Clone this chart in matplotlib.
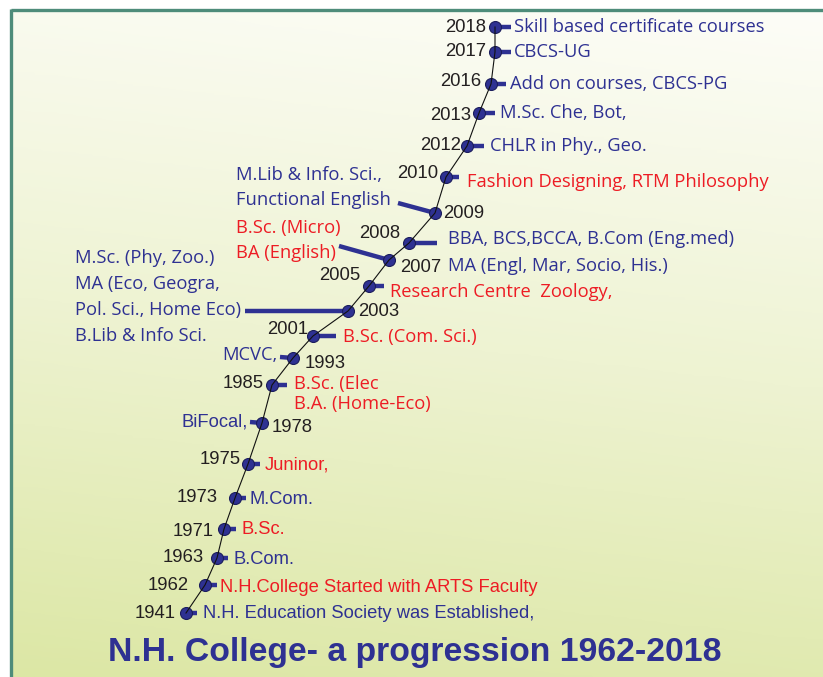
import matplotlib
matplotlib.use("Agg")
import matplotlib.pyplot as plt
import numpy as np
from matplotlib.colors import LinearSegmentedColormap

# ---------------- data ----------------
years = [1941, 1962, 1963, 1971, 1973, 1975, 1978, 1985, 1993, 2001, 2003,
         2005, 2007, 2008, 2009, 2010, 2012, 2013, 2016, 2017, 2018]

right_notes = {
    1941: ["N.H. Education Society was Established,"],
    1962: ["N.H.College Started with ARTS Faculty"],
    1963: ["B.Com."],
    1971: ["B.Sc."],
    1973: ["M.Com."],
    1975: ["Juninor,"],
    1985: ["B.Sc. (Elec", "B.A. (Home-Eco)"],
    2001: ["B.Sc. (Com. Sci.)"],
    2005: ["Research Centre  Zoology,"],
    2007: ["MA (Engl, Mar, Socio, His.)"],
    2008: ["BBA, BCS,BCCA, B.Com (Eng.med)"],
    2010: ["Fashion Designing, RTM Philosophy"],
    2012: ["CHLR in Phy., Geo."],
    2013: ["M.Sc. Che, Bot,"],
    2016: ["Add on courses, CBCS-PG"],
    2017: ["CBCS-UG"],
    2018: ["Skill based certificate courses"],
}
left_notes = {
    1978: ["BiFocal,"],
    1993: ["MCVC,"],
    2003: ["M.Sc. (Phy, Zoo.)", "MA (Eco, Geogra,", "Pol. Sci., Home Eco)", "B.Lib & Info Sci."],
    2007: ["B.Sc. (Micro)", "BA (English)"],
    2009: ["M.Lib & Info. Sci.,", "Functional English"],
}
red_right = {1962, 1971, 1975, 1985, 2001, 2005, 2010}
red_left = {2007}
title = "N.H. College- a progression 1962-2018"

# ---------------- layout (pixel positions) ----------------
W, H = 823, 677
node_x = [186, 205, 217, 224, 235, 248, 262, 272, 293, 313, 348,
          369, 389, 409, 435, 446, 467, 479, 491, 495, 495]
node_y = [613, 585, 558, 529, 498, 464, 423, 385, 358, 336, 311,
          286, 260, 243, 213, 177, 146, 113, 84, 52, 27]
conn_end = {
    1941: (197, 613), 1962: (217, 585), 1963: (228, 558), 1971: (236, 529),
    1973: (246, 498), 1975: (260, 464), 1978: (250, 422), 1985: (287, 385),
    1993: (280, 357), 2001: (336, 336), 2003: (245, 311), 2005: (384, 286),
    2007: (339, 246), 2008: (437, 243), 2009: (398, 203), 2010: (459, 177),
    2012: (484, 146), 2013: (495, 113), 2016: (506, 84), 2017: (511, 52),
    2018: (511, 27),
}
year_pos = {
    1941: (176, 613, 'right'), 1962: (189, 585, 'right'), 1963: (204, 557, 'right'),
    1971: (214, 531, 'right'), 1973: (218, 498, 'right'), 1975: (241, 460, 'right'),
    1978: (272, 427, 'left'), 1985: (264, 384, 'right'), 1993: (305, 363, 'left'),
    2001: (308, 329, 'right'), 2003: (358, 312, 'left'), 2005: (360, 276, 'right'),
    2007: (400, 267, 'left'), 2008: (400, 233, 'right'), 2009: (443, 214, 'left'),
    2010: (438, 174, 'right'), 2012: (461, 146, 'right'), 2013: (471, 115, 'right'),
    2016: (481, 82, 'right'), 2017: (486, 52, 'right'), 2018: (486, 27, 'right'),
}
right_pos = {
    1941: (203, 613), 1962: (220, 588), 1963: (234, 560), 1971: (242, 530),
    1973: (250, 499), 1975: (265, 465), 1985: (294, 384), 2001: (343, 337),
    2005: (390, 292), 2007: (448, 266), 2008: (448, 239), 2010: (467, 182),
    2012: (490, 146), 2013: (500, 113), 2016: (510, 84), 2017: (514, 52),
    2018: (514, 27),
}
left_pos = {
    1978: (248, 422, 'right'), 1993: (278, 355, 'right'),
    2003: (75, 258, 'left'), 2007: (236, 228, 'left'), 2009: (236, 175, 'left'),
}
line_gap = {1985: 20, 2003: 26, 2007: 25, 2009: 25}
arial_years = {1941, 1962, 1963, 1971, 1973, 1975, 1978}

BLUE = '#2e3192'
RED = '#ed1c24'
YEARC = '#231f20'

fig = plt.figure(figsize=(W / 100, H / 100), dpi=100)
ax = fig.add_axes([0, 0, 1, 1])
ax.set_xlim(0, W)
ax.set_ylim(H, 0)
ax.axis('off')

# background gradient
top = np.array([253, 253, 248]) / 255
mid = np.array([238, 243, 210]) / 255
bot = np.array([220, 231, 165]) / 255
cmap = LinearSegmentedColormap.from_list('bg', [top, mid, bot])
gy = np.linspace(0, 1, 300)[:, None]
gx = np.linspace(0, 1, 50)[None, :]
grad = np.clip(gy * 0.88 + (1 - gx) * 0.12, 0, 1)
ax.imshow(grad, cmap=cmap, extent=(11, W, H, 9), aspect='auto', zorder=0)
BORDER = '#4e8c7a'
ax.plot([11, W], [9.5, 9.5], color=BORDER, lw=2.4, zorder=1, solid_capstyle='butt')
ax.plot([11.5, 11.5], [9, H], color=BORDER, lw=2.4, zorder=1, solid_capstyle='butt')

# connectors
for i, y in enumerate(years):
    ex, ey = conn_end[y]
    ax.plot([node_x[i], ex], [node_y[i], ey], color=BLUE, lw=3.2,
            solid_capstyle='butt', zorder=3)

# dots
ax.plot(node_x, node_y, 'o', ms=8.6, color=BLUE, mec='#1b1d5c', mew=0.8, zorder=4)
# thin timeline line
ax.plot(node_x, node_y, color='#111111', lw=0.8, zorder=5)

# year labels
for y in years:
    x0, y0, ha = year_pos[y]
    ax.text(x0, y0, str(y), ha=ha, va='center', fontsize=13.3,
            family='Liberation Sans', color=YEARC, zorder=6)

FS = 13.2
for y, lines in right_notes.items():
    x0, y0 = right_pos[y]
    col = RED if y in red_right else BLUE
    fam = 'Liberation Sans' if y in arial_years else 'Open Sans'
    gap = line_gap.get(y, 20)
    for k, t in enumerate(lines):
        ax.text(x0, y0 + k * gap, t, ha='left', va='center', fontsize=FS,
                family=fam, color=col, zorder=6)

for y, lines in left_notes.items():
    x0, y0, ha = left_pos[y]
    col = RED if y in red_left else BLUE
    fam = 'Liberation Sans' if y in arial_years else 'Open Sans'
    gap = line_gap.get(y, 20)
    for k, t in enumerate(lines):
        ax.text(x0, y0 + k * gap, t, ha=ha, va='center', fontsize=FS,
                family=fam, color=col, zorder=6)

ax.text(415, 653, title, ha='center', va='center', fontsize=24.3,
        family='Liberation Sans', weight='bold', color=BLUE, zorder=6)

fig.savefig('out.png', dpi=100)
